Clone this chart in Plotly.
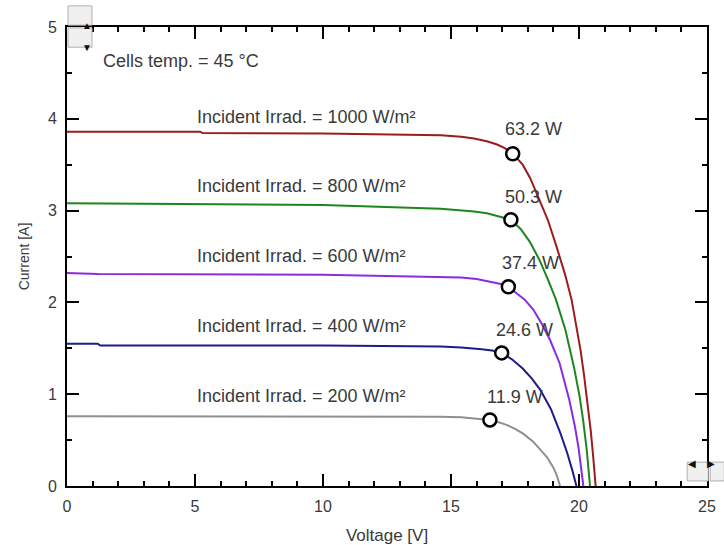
import plotly.graph_objects as go

# ---- data ----
irrad_labels = ["Incident Irrad. = 1000 W/m²", "Incident Irrad. = 800 W/m²",
                "Incident Irrad. = 600 W/m²", "Incident Irrad. = 400 W/m²",
                "Incident Irrad. = 200 W/m²"]
power_labels = ["63.2 W", "50.3 W", "37.4 W", "24.6 W", "11.9 W"]

v_1000 = [0, 5.2, 5.3, 10, 14.6, 15.4, 15.9, 16.4, 16.8, 17.1, 17.41, 17.8, 18.1, 18.46, 18.78,
          19.12, 19.46, 19.71, 19.90, 20.06, 20.2, 20.32, 20.46, 20.56, 20.65]
i_1000 = [3.86, 3.86, 3.845, 3.84, 3.82, 3.805, 3.785, 3.755, 3.72, 3.68, 3.62, 3.50, 3.35, 3.12, 2.90,
          2.61, 2.30, 2.03, 1.75, 1.48, 1.20, 0.94, 0.60, 0.30, 0]

v_800 = [0, 10, 14.6, 15.4, 15.9, 16.4, 16.8, 17.1, 17.34, 17.72, 18.08, 18.46, 18.8, 19.1, 19.47,
         19.8, 20.02, 20.16, 20.3, 20.37, 20.43]
i_800 = [3.08, 3.06, 3.02, 3.005, 2.99, 2.97, 2.945, 2.92, 2.90, 2.80, 2.66, 2.46, 2.24, 2.03, 1.70,
         1.30, 0.98, 0.72, 0.40, 0.20, 0]

v_600 = [0, 1.2, 10, 14.6, 15.4, 16.0, 16.6, 16.95, 17.24, 17.58, 17.88, 18.22, 18.56, 18.87, 19.24,
         19.62, 19.84, 19.98, 20.09, 20.17]
i_600 = [2.32, 2.31, 2.30, 2.28, 2.27, 2.255, 2.225, 2.20, 2.17, 2.10, 2.03, 1.92, 1.76, 1.59, 1.34,
         0.94, 0.65, 0.42, 0.20, 0]

v_400 = [0, 1.2, 1.3, 10, 14.6, 15.4, 16.2, 16.6, 16.98, 17.38, 17.8, 18.16, 18.48, 18.9, 19.28,
         19.54, 19.74, 19.9]
i_400 = [1.55, 1.55, 1.53, 1.53, 1.52, 1.51, 1.49, 1.475, 1.45, 1.38, 1.28, 1.17, 1.05, 0.84, 0.57,
         0.36, 0.17, 0]

v_200 = [0, 10, 14.6, 15.4, 15.8, 16.2, 16.52, 16.92, 17.22, 17.52, 17.82, 18.22, 18.52, 18.76,
         19.0, 19.14, 19.26]
i_200 = [0.76, 0.76, 0.755, 0.748, 0.74, 0.732, 0.72, 0.69, 0.66, 0.62, 0.57, 0.48, 0.39, 0.31,
         0.20, 0.11, 0]

v_mpp = [17.41, 17.34, 17.24, 16.98, 16.52]
i_mpp = [3.62, 2.90, 2.17, 1.45, 0.72]

label_i = [4.02, 3.27, 2.51, 1.74, 0.98]
power_v = [17.03, 17.03, 16.91, 16.68, 16.33]
power_i = [3.89, 3.15, 2.43, 1.70, 0.97]

curves = [(v_1000, i_1000), (v_800, i_800), (v_600, i_600), (v_400, i_400), (v_200, i_200)]
colors = ["#9b1c1c", "#1f861f", "#8a2be2", "#1c1c8a", "#8f8f8f"]

FONT = "Liberation Sans, Arial, sans-serif"
TXT = "#3a3a3a"

fig = go.Figure()
for (v, i), c in zip(curves, colors):
    fig.add_trace(go.Scatter(x=v, y=i, mode="lines", line=dict(color=c, width=2),
                             showlegend=False, hoverinfo="skip"))

fig.add_trace(go.Scatter(x=v_mpp, y=i_mpp, mode="markers",
                         marker=dict(symbol="circle", size=13, color="white",
                                     line=dict(color="black", width=2.5)),
                         showlegend=False))

txt_font = dict(family=FONT, size=18, color=TXT)
for lab, yy in zip(irrad_labels, label_i):
    fig.add_annotation(x=5.0, y=yy, text=lab, showarrow=False, xanchor="left", yanchor="middle", font=txt_font)
for lab, xx, yy in zip(power_labels, power_v, power_i):
    fig.add_annotation(x=xx, y=yy, text=lab, showarrow=False, xanchor="left", yanchor="middle", font=txt_font)
fig.add_annotation(x=1.33, y=4.63, text="Cells temp. = 45 °C", showarrow=False, xanchor="left",
                   yanchor="middle", font=txt_font)

# scroll widgets
boxes = [(0.0016, 0.039, 1.004, 1.046, "▲"), (0.0016, 0.039, 0.956, 0.998, "▼"),
         (0.969, 1.002, 0.011, 0.052, "◀"), (1.005, 1.027, 0.011, 0.052, "▶")]
for x0, x1, y0, y1, s in boxes:
    fig.add_shape(type="rect", xref="paper", yref="paper", x0=x0, x1=x1, y0=y0, y1=y1,
                  line=dict(color="#b0b0b0", width=1), fillcolor="#f0f0f0")
    fig.add_annotation(xref="paper", yref="paper", x=(x0 + x1) / 2, y=(y0 + y1) / 2, text=s,
                       showarrow=False, font=dict(size=10, color="#111111"))

fig.update_xaxes(range=[0, 25], tickmode="linear", tick0=0, dtick=5,
                 showline=True, linecolor="black", linewidth=2, mirror="ticks",
                 ticks="inside", ticklen=12, tickwidth=2, tickcolor="#000000",
                 showgrid=False, zeroline=False, automargin=False, ticklabelstandoff=5,
                 tickfont=dict(family=FONT, size=16, color=TXT),
                 minor=dict(ticks="inside", dtick=1, ticklen=5, tickcolor="#000000", tickwidth=2),
                 title=dict(text="Voltage [V]", font=dict(family=FONT, size=17, color=TXT)))
fig.update_yaxes(range=[0, 5], tickmode="linear", tick0=0, dtick=1,
                 showline=True, linecolor="black", linewidth=2, mirror="ticks",
                 ticks="inside", ticklen=12, tickwidth=2, tickcolor="#000000",
                 showgrid=False, zeroline=False, automargin=False, ticklabelstandoff=5,
                 tickfont=dict(family=FONT, size=16, color=TXT),
                 minor=dict(ticks="inside", dtick=0.5, ticklen=5, tickcolor="#000000", tickwidth=2),
                 title=dict(text="Current [A]", font=dict(family=FONT, size=14, color=TXT)))

fig.update_layout(width=724, height=545, margin=dict(l=67, r=17, t=27, b=59),
                  plot_bgcolor="white", paper_bgcolor="white")

fig.write_html("out.html")
